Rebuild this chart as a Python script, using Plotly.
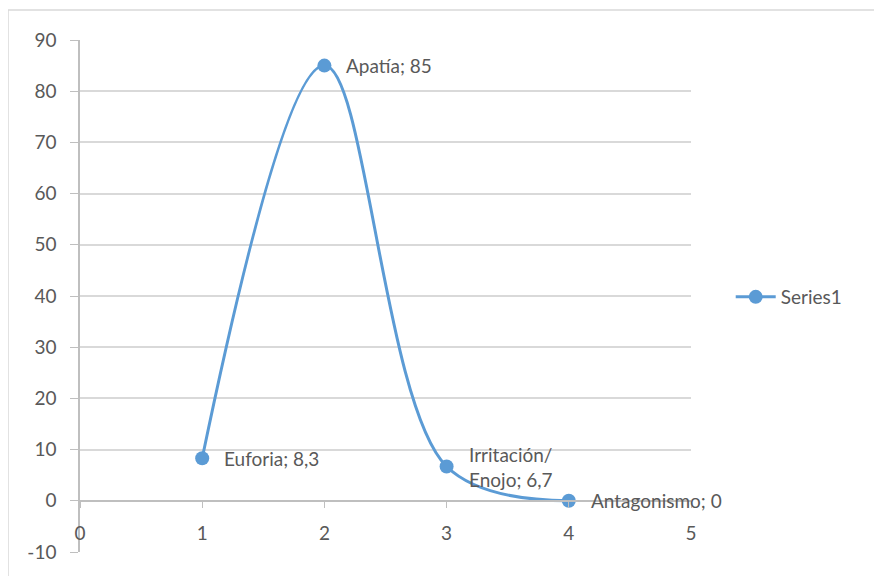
import plotly.graph_objects as go

x_vals = [1, 2, 3, 4]
y_vals = [8.3, 85, 6.7, 0]
labels = ["Euforia; 8,3", "Apatía; 85", "Irritación/<br>Enojo; 6,7", "Antagonismo; 0"]
series_name = "Series1"
x_ticks = [0, 1, 2, 3, 4, 5]
y_ticks = list(range(-10, 100, 10))
y_ticktext = [str(v) for v in y_ticks]

COLOR = "#5B9BD5"
TXT = "#595959"
FONT = "Lato"
FS = 19

# page body adds an 8px offset
OFF = 8
L, T = 80 - OFF, 40 - OFF
PW, PH = 611, 512

fig = go.Figure()
fig.add_trace(go.Scatter(
    x=x_vals, y=y_vals, mode="lines+markers", name=series_name,
    line=dict(color=COLOR, width=3, shape="spline", smoothing=1.0),
    marker=dict(color=COLOR, size=14),
    cliponaxis=False,
))

for xv, yv, lab in zip(x_vals, y_vals, labels):
    fig.add_annotation(x=xv, y=yv, xref="x", yref="y", text=lab, showarrow=False,
                       xanchor="left", yanchor="middle", xshift=20, align="left",
                       font=dict(family=FONT, size=FS, color=TXT))

fig.add_shape(type="rect", xref="paper", yref="paper",
              x0=(8 - 80) / PW, x1=(900 - 80) / PW,
              y0=(552 - 600) / PH, y1=1 + (40 - 10) / PH,
              line=dict(color="#d9d9d9", width=1.5), layer="below")

fig.update_layout(
    width=882, height=576,
    margin=dict(l=L, r=882 - L - PW, t=T, b=576 - T - PH),
    paper_bgcolor="white", plot_bgcolor="white",
    font=dict(family=FONT, size=FS, color=TXT),
    showlegend=True,
    legend=dict(x=1.065, y=1 - (297 - 40) / PH, yanchor="middle", xanchor="left",
                font=dict(family=FONT, size=FS, color=TXT), itemwidth=40),
    xaxis=dict(range=[0, 5], tickvals=x_ticks, showgrid=False, zeroline=False,
               showline=True, linecolor="#bfbfbf", linewidth=1.5,
               ticks="outside", ticklen=6, tickcolor="#bfbfbf",
               anchor="free", position=0.1, ticklabelstandoff=10,
               tickfont=dict(family=FONT, size=FS, color=TXT)),
    yaxis=dict(range=[-10, 90], tickvals=y_ticks, ticktext=y_ticktext,
               showgrid=True, gridcolor="#d9d9d9",
               gridwidth=1.5, zeroline=False, showline=True, linecolor="#bfbfbf",
               linewidth=1.5, ticks="outside", ticklen=8, tickcolor="#bfbfbf",
               ticklabelstandoff=10,
               tickfont=dict(family=FONT, size=FS, color=TXT)),
)

fig.write_html("out.html")
